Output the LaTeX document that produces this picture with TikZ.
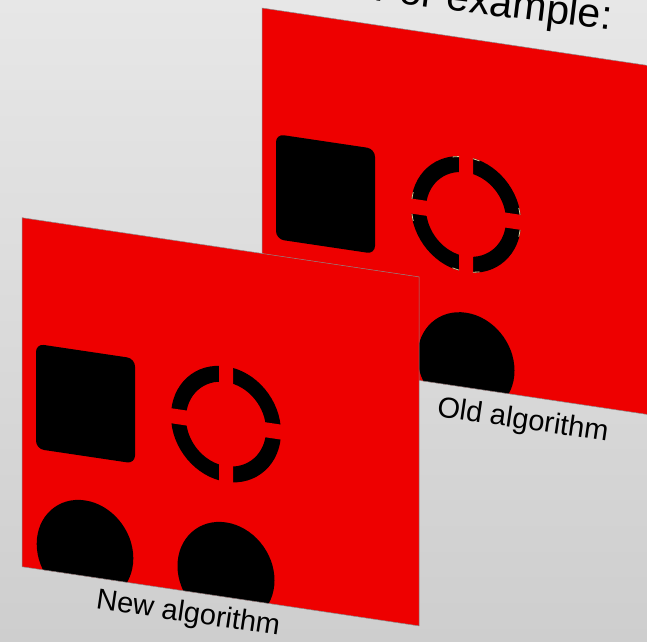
\documentclass[tikz,border=0pt]{standalone}
\usepackage{fontspec}
\setmainfont{Liberation Sans}
\definecolor{panelred}{RGB}{238,0,0}
\definecolor{bgtop}{RGB}{231,231,231}
\definecolor{bgbottom}{RGB}{206,206,206}
\definecolor{seam}{RGB}{222,204,150}

% One slanted card: rounded square, broken ring and two discs, in card coordinates
\newcommand\cardcontent{%
  \fill[panelred] (0,0) rectangle (397,349);
  \begin{scope}
    \clip (0,0) rectangle (397,349);
    \fill[rounded corners=8pt] (14,124) rectangle (113,229);
    \fill[even odd rule] (204,176) ellipse [x radius=55, y radius=57.7]
                         (204,176) ellipse [x radius=40, y radius=42];
    \fill[panelred] (197.2,100) rectangle (211.2,252);
    \fill[panelred] (130,168.3) rectangle (280,183.3);
    \fill (63,324) ellipse [x radius=48.3, y radius=50.7];
    \fill (204,325) ellipse [x radius=48.5, y radius=50.7];
  \end{scope}
  \draw[cardedge] (0,0) rectangle (397,349);
}

\tikzset{
  cardedge/.style={draw=black!45, line width=0.5pt},
  caption/.style={font=\fontsize{29}{34}\selectfont, anchor=base, inner sep=0pt},
  seamline/.style={seam, line width=0.8pt},
}

\begin{document}
\begin{tikzpicture}[x=1pt, y=-1pt]
  \useasboundingbox (0,0) rectangle (647,641);
  \clip (0,0) rectangle (647,641);
  \shade[top color=bgtop, bottom color=bgbottom] (0,0) rectangle (647,641);

  % back card
  \begin{scope}[shift={(262,8)}, yslant=-0.149]
    \cardcontent
    % light seams left at the ends of the ring pieces
    \foreach \a/\b in {255.7/262.7, 277.3/284.3, 345.5/352.5, 7.5/14.5,
                       75.7/82.7, 97.3/104.3, 165.5/172.5, 187.5/194.5}
      \draw[seamline] plot[domain=\a:\b, samples=6, variable=\t]
        ({204+54.5*cos(\t)}, {176+57.2*sin(\t)});
  \end{scope}
  \node[caption, rotate=-8.4] (oldlabel) at (521.7,428.6) {Old algorithm};

  % front card
  \begin{scope}[shift={(22,217.7)}, yslant=-0.149]
    \cardcontent
  \end{scope}
  \node[caption, rotate=-8.4] (newlabel) at (187,621.9) {New algorithm};

  % heading
  \node[font=\fontsize{41}{48}\selectfont, anchor=base, inner sep=0pt, rotate=-7]
    (heading) at (492,15.5) {For example:};
\end{tikzpicture}
\end{document}
